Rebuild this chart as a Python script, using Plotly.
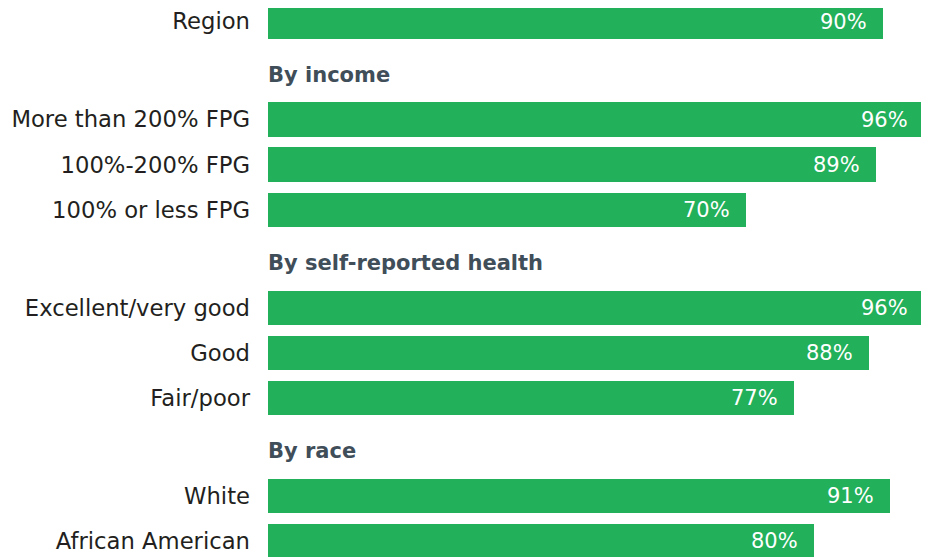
import plotly.graph_objects as go

# Data
groups = ["", "By income", "By self-reported health", "By race"]
group_labels = [
    ["Region"],
    ["More than 200% FPG", "100%-200% FPG", "100% or less FPG"],
    ["Excellent/very good", "Good", "Fair/poor"],
    ["White", "African American"],
]
group_values = [
    [90],
    [96, 89, 70],
    [96, 88, 77],
    [91, 80],
]

# Layout of rows (in row units)
HEADER_GAP = 2.17
labels, values, ypos, header_pos = [], [], [], []
pos = 0.0
for gi, (g, labs, vals) in enumerate(zip(groups, group_labels, group_values)):
    if gi > 0:
        header_pos.append((g, pos - 1 + HEADER_GAP / 2 + 0.09))
        pos = pos - 1 + HEADER_GAP
    for l, v in zip(labs, vals):
        labels.append(l)
        values.append(v)
        ypos.append(pos)
        pos += 1
last = ypos[-1]

GREEN = "#22b05a"
FONT = "'DejaVu Sans', sans-serif"

fig = go.Figure(
    go.Bar(
        x=values,
        y=ypos,
        orientation="h",
        width=0.76,
        marker=dict(color=GREEN, line=dict(width=0)),
        text=[f"{v}%\u00a0\u00a0" for v in values],
        textposition="inside",
        insidetextanchor="end",
        textangle=0,
        textfont=dict(color="white", size=21, family=FONT),
        cliponaxis=False,
        hoverinfo="skip",
    )
)

for g, y in header_pos:
    fig.add_annotation(
        x=0, y=y, xref="x", yref="y", text=f"<b>{g}</b>", showarrow=False,
        xanchor="left", yanchor="middle",
        font=dict(size=21, color="#3f4e59", family=FONT), xshift=-2,
    )

fig.update_layout(
    width=929, height=557,
    margin=dict(l=260, r=0, t=0, b=0),
    plot_bgcolor="white", paper_bgcolor="white",
    showlegend=False,
    bargap=0,
    xaxis=dict(range=[0, 97.95], visible=False, fixedrange=True),
    yaxis=dict(
        range=[last + 0.53, -0.30],
        tickvals=ypos, ticktext=labels,
        showgrid=False, zeroline=False, showline=False, ticks="",
        ticklabelstandoff=17,
        tickfont=dict(size=22.7, color="#231f20", family=FONT),
    ),
)

fig.write_html("out.html")
